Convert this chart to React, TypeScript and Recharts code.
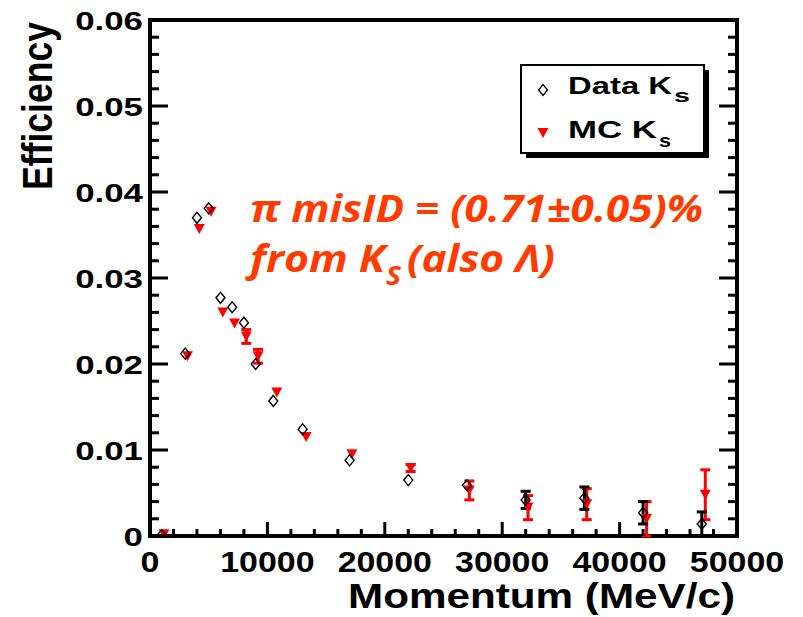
import React from 'react';
import { ScatterChart, Scatter, XAxis, YAxis, ErrorBar, ReferenceArea } from 'recharts';

// momentum bins (MeV/c) and efficiencies
const dataMomentum = [1000, 3000, 4000, 5000, 6000, 7000, 8000, 9000, 10500, 13000, 17000, 22000, 27000, 32000, 37000, 42000, 47000];
const dataEff = [0.0001, 0.0212, 0.037, 0.0381, 0.0277, 0.0266, 0.0248, 0.02, 0.0157, 0.0124, 0.0088, 0.0065, 0.0059, 0.0042, 0.0044, 0.0027, 0.0014];
const dataErr = [0, 0, 0, 0, 0, 0, 0, 0, 0, 0, 0, 0, 0, 0.001, 0.0013, 0.0013, 0.0014];

const mcMomentum = [1200, 3200, 4200, 5200, 6200, 7200, 8200, 9200, 10800, 13300, 17200, 22200, 27200, 32200, 37200, 42300, 47300];
const mcEff = [0.0002, 0.0209, 0.0357, 0.0377, 0.026, 0.0247, 0.0232, 0.0209, 0.0167, 0.0115, 0.0095, 0.0079, 0.0053, 0.0033, 0.0037, 0.002, 0.0048];
const mcErr = [0, 0, 0, 0, 0, 0, 0.0008, 0.0008, 0, 0, 0, 0.0004, 0.0011, 0.0014, 0.0018, 0.002, 0.0029];

const xTicks = [0, 2000, 4000, 6000, 8000, 10000, 12000, 14000, 16000, 18000, 20000, 22000, 24000, 26000, 28000, 30000, 32000, 34000, 36000, 38000, 40000, 42000, 44000, 46000, 48000, 50000];
const xMajor = [0, 10000, 20000, 30000, 40000, 50000];
const yTicks = [0, 0.002, 0.004, 0.006, 0.008, 0.01, 0.012, 0.014, 0.016, 0.018, 0.02, 0.022, 0.024, 0.026, 0.028, 0.03, 0.032, 0.034, 0.036, 0.038, 0.04, 0.042, 0.044, 0.046, 0.048, 0.05, 0.052, 0.054, 0.056, 0.058, 0.06];
const yMajor = [0, 0.01, 0.02, 0.03, 0.04, 0.05, 0.06];
const yLabels = ['0', '0.01', '0.02', '0.03', '0.04', '0.05', '0.06'];

const dataPoints = dataMomentum.map((x, i) => ({ x, y: dataEff[i], err: dataErr[i] }));
const mcPoints = mcMomentum.map((x, i) => ({ x, y: mcEff[i], err: mcErr[i] }));

const FONT = '"Liberation Sans", Arial, Helvetica, sans-serif';
const RED = '#ff3c00';

const isMajorY = (v: number) => yMajor.findIndex((m) => Math.abs(m - v) < 1e-7);

const BottomTick = ({ x, y, payload }: any) => {
  const major = xMajor.includes(payload.value);
  const label = String(payload.value);
  return (
    <g>
      <line x1={x} x2={x} y1={y} y2={y - (major ? 14 : 7)} stroke="#000" strokeWidth={3} />
      {major && (
        <text x={x} y={y + 36} textAnchor="middle" fontFamily={FONT} fontWeight="bold" fontSize={30}
          textLength={label.length * 30 * 0.556 * 1.13} lengthAdjust="spacingAndGlyphs" fill="#000">
          {label}
        </text>
      )}
    </g>
  );
};

const TopTick = ({ x, y, payload }: any) => {
  const major = xMajor.includes(payload.value);
  return <line x1={x} x2={x} y1={y} y2={y + (major ? 14 : 7)} stroke="#000" strokeWidth={3} />;
};

const LeftTick = ({ x, y, payload }: any) => {
  const idx = isMajorY(payload.value);
  const label = idx >= 0 ? yLabels[idx] : '';
  const natural = label.replace('.', '').length * 0.556 + (label.includes('.') ? 0.278 : 0);
  return (
    <g>
      <line x1={x} x2={x + (idx >= 0 ? 18 : 9)} y1={y} y2={y} stroke="#000" strokeWidth={3} />
      {idx >= 0 && (
        <text x={x - 7} y={y + 9.5} textAnchor="end" fontFamily={FONT} fontWeight="bold" fontSize={26}
          textLength={natural * 26 * 1.34} lengthAdjust="spacingAndGlyphs" fill="#000">
          {label}
        </text>
      )}
    </g>
  );
};

const RightTick = ({ x, y, payload }: any) => {
  const major = isMajorY(payload.value) >= 0;
  return <line x1={x} x2={x - (major ? 18 : 9)} y1={y} y2={y} stroke="#000" strokeWidth={3} />;
};

const Diamond = ({ cx, cy }: any) => (
  <polygon points={`${cx},${cy - 5.5} ${cx + 4.5},${cy} ${cx},${cy + 5.5} ${cx - 4.5},${cy}`} fill="none" stroke="#000" strokeWidth={1.4} />
);

const TriangleDown = ({ cx, cy }: any) => (
  <polygon points={`${cx - 5.5},${cy - 5} ${cx + 5.5},${cy - 5} ${cx},${cy + 5}`} fill="#ff0000" stroke="none" />
);

const Overlay = () => (
  <svg width={803} height={617} style={{ position: 'absolute', left: 0, top: 0, pointerEvents: 'none' }}>
    {/* axis titles */}
    <text transform="translate(52,106) scale(1.3,1) rotate(-90)" textAnchor="middle" fontFamily={FONT} fontWeight="bold"
      fontSize={33} textLength={168} lengthAdjust="spacingAndGlyphs" fill="#000">
      Efficiency
    </text>
    <text x={348} y={608} fontFamily={FONT} fontWeight="bold" fontSize={35} textLength={387} lengthAdjust="spacingAndGlyphs" fill="#000">
      Momentum (MeV/c)
    </text>

    {/* legend */}
    <rect x={526} y={70} width={183} height={88} fill="#000" />
    <rect x={521} y={65} width={183} height={88} fill="#fff" stroke="#000" strokeWidth={2} />
    <Diamond cx={543} cy={90} />
    <text x={568} y={94} fontFamily={FONT} fontWeight="bold" fontSize={23} textLength={104} lengthAdjust="spacingAndGlyphs">Data K</text>
    <text x={674} y={102} fontFamily={FONT} fontWeight="bold" fontSize={18} textLength={16} lengthAdjust="spacingAndGlyphs">s</text>
    <TriangleDown cx={543} cy={133} />
    <text x={568} y={138} fontFamily={FONT} fontWeight="bold" fontSize={23} textLength={89} lengthAdjust="spacingAndGlyphs">MC K</text>
    <text x={659} y={147} fontFamily={FONT} fontWeight="bold" fontSize={18} textLength={12} lengthAdjust="spacingAndGlyphs">s</text>

    {/* annotation */}
    <g fontFamily='"Open Sans", "Noto Sans", sans-serif' fontWeight="bold" fontStyle="italic" fill={RED}>
      <text x={250} y={222} fontSize={38} textLength={453} lengthAdjust="spacingAndGlyphs">π misID = (0.71±0.05)%</text>
      <text x={250} y={272} fontSize={38} textLength={135} lengthAdjust="spacingAndGlyphs">from K</text>
      <text x={386} y={285} fontSize={27} textLength={15} lengthAdjust="spacingAndGlyphs">S</text>
      <text x={407} y={272} fontSize={38} textLength={148} lengthAdjust="spacingAndGlyphs">(also Λ)</text>
    </g>
  </svg>
);

export default function App() {
  return (
    <div style={{ position: 'absolute', left: 0, top: 0, width: 803, height: 617, background: '#fff' }}>
      <ScatterChart width={803} height={617} margin={{ top: 19, right: 65, bottom: 80, left: 149 }}>
        <XAxis dataKey="x" type="number" domain={[0, 50000]} ticks={xTicks} interval={0} height={1}
          axisLine={false} tickLine={false} tickSize={0} tickMargin={0} tick={<BottomTick />} allowDataOverflow />
        <XAxis xAxisId="top" orientation="top" type="number" domain={[0, 50000]} ticks={xTicks} interval={0} height={1}
          axisLine={false} tickLine={false} tickSize={0} tickMargin={0} tick={<TopTick />} allowDataOverflow />
        <YAxis dataKey="y" type="number" domain={[0, 0.06]} ticks={yTicks} interval={0} width={1}
          axisLine={false} tickLine={false} tickSize={0} tickMargin={0} tick={<LeftTick />} allowDataOverflow />
        <YAxis yAxisId="right" orientation="right" type="number" domain={[0, 0.06]} ticks={yTicks} interval={0} width={1}
          axisLine={false} tickLine={false} tickSize={0} tickMargin={0} tick={<RightTick />} allowDataOverflow />
        <Scatter data={mcPoints} shape={<TriangleDown />} isAnimationActive={false}>
          <ErrorBar dataKey="err" direction="y" width={5} stroke="#ff0000" strokeWidth={3} isAnimationActive={false} />
        </Scatter>
        <Scatter data={dataPoints} shape={<Diamond />} isAnimationActive={false}>
          <ErrorBar dataKey="err" direction="y" width={5} stroke="#000" strokeWidth={3} isAnimationActive={false} />
        </Scatter>
        <ReferenceArea x1={0} x2={50000} y1={0} y2={0.06} fill="none" fillOpacity={0} stroke="#000" strokeWidth={4} />
      </ScatterChart>
      <Overlay />
    </div>
  );
}
